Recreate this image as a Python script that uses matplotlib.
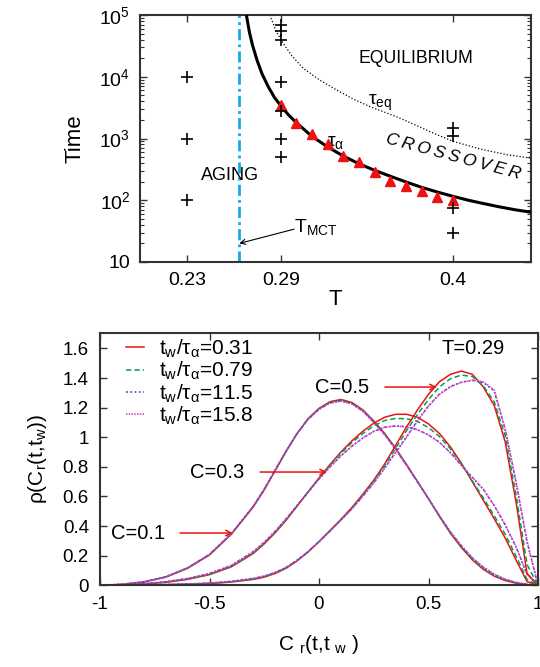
import matplotlib
matplotlib.use("Agg")
import matplotlib.pyplot as plt
from matplotlib.ticker import FixedLocator, NullFormatter, LogLocator

plt.rcParams['font.family'] = ['Liberation Sans', 'DejaVu Sans']
plt.rcParams['mathtext.fontset'] = 'custom'
plt.rcParams['mathtext.rm'] = 'Liberation Sans'
plt.rcParams['mathtext.it'] = 'Liberation Sans:italic'
plt.rcParams['mathtext.bf'] = 'Liberation Sans:bold'

# ---------------- top panel data ----------------
plus_T = [0.23, 0.23, 0.23, 0.29, 0.29, 0.29, 0.29, 0.29, 0.29, 0.29, 0.4, 0.4, 0.4, 0.4]
plus_time = [1e2, 1e3, 1e4, 7e4, 5.6e4, 4e4, 8.2e3, 2.8e3, 1.0e3, 5.0e2, 1.5e3, 1.1e3, 75, 30]

tri_T = [0.29, 0.30, 0.31, 0.32, 0.33, 0.34, 0.35, 0.36, 0.37, 0.38, 0.39, 0.40]
tri_tau = [3480, 1800, 1170, 815, 521, 421, 290, 207, 170, 143, 114, 101]

fit_T = [0.268, 0.270, 0.272, 0.275, 0.278, 0.282, 0.286, 0.290, 0.295, 0.300, 0.310,
         0.320, 0.330, 0.340, 0.350, 0.360, 0.370, 0.380, 0.390, 0.400, 0.410, 0.420,
         0.430, 0.440, 0.450]
fit_tau = [1.0e5, 5.2e4, 3.2e4, 1.8e4, 1.12e4, 6.9e3, 4.6e3, 3.4e3, 2.4e3, 1.8e3, 1.08e3,
           7.3e2, 5.2e2, 3.9e2, 3.05e2, 2.45e2, 1.98e2, 1.62e2, 1.36e2, 1.16e2, 1.0e2, 8.8e1,
           7.8e1, 7.0e1, 6.4e1]

eq_T = [0.283, 0.287, 0.2915, 0.297, 0.3043, 0.315, 0.3257, 0.336, 0.3471, 0.355, 0.365,
        0.375, 0.390, 0.4008, 0.418, 0.435, 0.450]
eq_tau = [1.0e5, 5.5e4, 3.5e4, 2.2e4, 1.37e4, 8.8e3, 6.1e3, 4.4e3, 3.27e3, 2.75e3, 2.2e3,
          1.7e3, 1.15e3, 8.9e2, 6.7e2, 5.45e2, 4.8e2]

T_MCT = 0.263

top_xticks = [0.23, 0.29, 0.4]
top_xticklabels = ['0.23', '0.29', '0.4']
top_yticks = [1e1, 1e2, 1e3, 1e4, 1e5]
top_yticklabels = ['10', r'$10^2$', r'$10^3$', r'$10^4$', r'$10^5$']

# ---------------- bottom panel data ----------------
cr = [-1.0, -0.9, -0.8, -0.7, -0.6, -0.5, -0.4, -0.3, -0.25, -0.2, -0.15, -0.1, -0.05, 0.0,
      0.05, 0.1, 0.15, 0.2, 0.25, 0.3, 0.35, 0.4, 0.45, 0.5, 0.55, 0.6, 0.65, 0.7, 0.75,
      0.8, 0.85, 0.9, 0.95, 1.0]

c01_031 = [0.000, 0.006, 0.022, 0.055, 0.115, 0.205, 0.345, 0.530, 0.645, 0.775, 0.905, 1.025,
           1.125, 1.195, 1.240, 1.255, 1.235, 1.185, 1.110, 1.025, 0.925, 0.815, 0.700, 0.585,
           0.465, 0.352, 0.255, 0.172, 0.108, 0.062, 0.032, 0.014, 0.004, 0.000]
c01_079 = [0.000, 0.006, 0.023, 0.056, 0.116, 0.207, 0.347, 0.532, 0.647, 0.777, 0.906, 1.025,
           1.123, 1.192, 1.236, 1.250, 1.231, 1.181, 1.106, 1.021, 0.922, 0.813, 0.699, 0.585,
           0.467, 0.356, 0.260, 0.178, 0.114, 0.067, 0.036, 0.016, 0.005, 0.000]
c01_115 = [0.000, 0.007, 0.024, 0.058, 0.118, 0.209, 0.349, 0.534, 0.649, 0.779, 0.907, 1.025,
           1.121, 1.189, 1.232, 1.245, 1.227, 1.177, 1.102, 1.017, 0.919, 0.811, 0.698, 0.585,
           0.469, 0.360, 0.266, 0.185, 0.121, 0.073, 0.040, 0.019, 0.006, 0.000]
c01_158 = [0.000, 0.007, 0.024, 0.058, 0.118, 0.210, 0.350, 0.535, 0.650, 0.780, 0.908, 1.025,
           1.120, 1.188, 1.230, 1.243, 1.225, 1.175, 1.100, 1.015, 0.918, 0.810, 0.697, 0.585,
           0.470, 0.362, 0.268, 0.188, 0.124, 0.076, 0.042, 0.020, 0.007, 0.000]

c03_031 = [0.000, 0.003, 0.009, 0.020, 0.040, 0.072, 0.125, 0.215, 0.280, 0.355, 0.440, 0.535,
           0.630, 0.725, 0.815, 0.900, 0.975, 1.040, 1.095, 1.135, 1.155, 1.155, 1.135, 1.090,
           1.025, 0.935, 0.825, 0.700, 0.575, 0.450, 0.320, 0.170, 0.025, 0.000]
c03_079 = [0.000, 0.003, 0.010, 0.021, 0.042, 0.074, 0.128, 0.219, 0.284, 0.359, 0.443, 0.536,
           0.630, 0.723, 0.810, 0.892, 0.963, 1.025, 1.077, 1.113, 1.127, 1.125, 1.106, 1.065,
           1.005, 0.922, 0.818, 0.706, 0.590, 0.470, 0.345, 0.195, 0.040, 0.000]
c03_115 = [0.000, 0.004, 0.011, 0.024, 0.046, 0.080, 0.134, 0.227, 0.291, 0.365, 0.449, 0.539,
           0.629, 0.717, 0.799, 0.874, 0.939, 0.994, 1.039, 1.067, 1.077, 1.071, 1.051, 1.016,
           0.966, 0.896, 0.811, 0.729, 0.648, 0.538, 0.408, 0.258, 0.073, 0.000]
c03_158 = [0.000, 0.004, 0.011, 0.024, 0.046, 0.080, 0.135, 0.228, 0.292, 0.366, 0.450, 0.540,
           0.630, 0.718, 0.800, 0.875, 0.940, 0.995, 1.040, 1.068, 1.076, 1.070, 1.050, 1.015,
           0.965, 0.895, 0.810, 0.730, 0.650, 0.540, 0.410, 0.260, 0.075, 0.000]

c05_031 = [0.000, 0.001, 0.002, 0.004, 0.007, 0.012, 0.022, 0.040, 0.055, 0.080, 0.115, 0.165,
           0.225, 0.295, 0.370, 0.445, 0.525, 0.615, 0.710, 0.820, 0.945, 1.070, 1.185, 1.290,
           1.375, 1.425, 1.447, 1.425, 1.340, 1.215, 0.970, 0.560, 0.080, 0.000]
c05_079 = [0.000, 0.001, 0.002, 0.004, 0.008, 0.013, 0.024, 0.042, 0.058, 0.083, 0.118, 0.167,
           0.226, 0.295, 0.368, 0.443, 0.520, 0.608, 0.702, 0.808, 0.925, 1.045, 1.155, 1.255,
           1.340, 1.395, 1.420, 1.410, 1.348, 1.240, 1.010, 0.610, 0.140, 0.000]
c05_115 = [0.000, 0.001, 0.003, 0.005, 0.009, 0.015, 0.027, 0.046, 0.062, 0.087, 0.121, 0.169,
           0.227, 0.295, 0.366, 0.441, 0.517, 0.602, 0.693, 0.794, 0.899, 1.005, 1.113, 1.212,
           1.292, 1.343, 1.372, 1.384, 1.370, 1.312, 1.050, 0.690, 0.290, 0.000]
c05_158 = [0.000, 0.001, 0.003, 0.005, 0.009, 0.015, 0.027, 0.047, 0.063, 0.088, 0.122, 0.170,
           0.228, 0.295, 0.365, 0.440, 0.515, 0.600, 0.690, 0.790, 0.895, 1.000, 1.110, 1.210,
           1.290, 1.340, 1.370, 1.386, 1.375, 1.320, 1.060, 0.700, 0.300, 0.000]

legend_labels = [r'$\mathregular{t_w/\tau_\alpha}$=0.31', r'$\mathregular{t_w/\tau_\alpha}$=0.79',
                 r'$\mathregular{t_w/\tau_\alpha}$=11.5', r'$\mathregular{t_w/\tau_\alpha}$=15.8']
series_colors = ['#ee1111', '#00a050', '#4444bb', '#dd33cc']
series_dashes = [None, (3.5, 2.0), (1.2, 1.6), (1.0, 0.8)]

bottom_xticks = [-1, -0.5, 0, 0.5, 1]
bottom_xticklabels = ['-1', '-0.5', '0', '0.5', '1']
bottom_yticks = [0, 0.2, 0.4, 0.6, 0.8, 1.0, 1.2, 1.4, 1.6]
bottom_yticklabels = ['0', '0.2', '0.4', '0.6', '0.8', '1', '1.2', '1.4', '1.6']

# ---------------- figure ----------------
fig = plt.figure(figsize=(5.40, 6.67), dpi=100)
spine_col = '#333333'

ax1 = fig.add_axes([140/540, 1-262/667, 391/540, 247/667])
ax1.set_yscale('log')
ax1.set_xlim(0.2, 0.45)
ax1.set_ylim(10, 1e5)

ax1.axvline(T_MCT, color='#11aaee', lw=2.0, ls=(0, (4, 1.5, 1, 1.5)), zorder=1)
ax1.plot(eq_T, eq_tau, color='black', lw=0.9, ls=(0, (1, 1.6)), zorder=2)
ax1.plot(fit_T, fit_tau, color='black', lw=2.2, zorder=3)
ax1.plot(tri_T, tri_tau, ls='none', marker='^', color='#ee1111', ms=6.5, mec='#ee1111', zorder=4)
ax1.plot(plus_T, plus_time, ls='none', marker='+', color='black', ms=9, mew=1.2, zorder=5)

ax1.text(0.3763, 1.99e4, 'EQUILIBRIUM', fontsize=12.7, ha='center', va='center')
ax1.text(0.3455, 3.8e3, r'$\mathregular{\tau_{eq}}$', fontsize=14, ha='left', va='center')
ax1.text(0.3195, 8.5e2, r'$\mathregular{\tau_{\alpha}}$', fontsize=14, ha='left', va='center')
ax1.text(0.4005, 5.0e2, '\u2009'.join('CROSSOVER'), fontsize=12.5, style='italic',
         ha='center', va='center', rotation=-15)
ax1.text(0.2575, 2.5e2, 'AGING', fontsize=13, ha='center', va='center')
ax1.text(0.2985, 37, r'$\mathregular{T_{MCT}}$', fontsize=14, ha='left', va='center')
ax1.annotate('', xy=(T_MCT + 0.0005, 20), xytext=(0.2985, 34),
             arrowprops=dict(arrowstyle='->', lw=0.8, color='black',
                             shrinkA=0, shrinkB=0, mutation_scale=9))

ax1.set_xticks(top_xticks)
ax1.set_xticklabels(top_xticklabels)
ax1.set_yticks(top_yticks)
ax1.set_yticklabels(top_yticklabels)
ax1.yaxis.set_minor_locator(LogLocator(base=10, subs=range(2, 10)))
ax1.yaxis.set_minor_formatter(NullFormatter())
ax1.tick_params(axis='both', which='major', direction='in', length=5, width=1,
                labelsize=14, top=True, right=True, color=spine_col, pad=7)
ax1.tick_params(axis='y', which='minor', direction='in', length=3, width=0.8,
                right=True, color=spine_col)
ax1.set_ylabel('Time', fontsize=16, labelpad=10)
ax1.set_xlabel('T', fontsize=16, labelpad=0)
for s in ax1.spines.values():
    s.set_linewidth(1.5)
    s.set_color(spine_col)

# bottom panel
ax2 = fig.add_axes([100/540, 1-585.3/667, 438/540, 252.6/667])
ax2.set_xlim(-1, 1)
ax2.set_ylim(0, 1.706)

groups = [
    [c01_031, c01_079, c01_115, c01_158],
    [c03_031, c03_079, c03_115, c03_158],
    [c05_031, c05_079, c05_115, c05_158],
]
handles = []
for gi, grp in enumerate(groups):
    for si, ys in enumerate(grp):
        line, = ax2.plot(cr, ys, color=series_colors[si], lw=1.1)
        if series_dashes[si] is not None:
            line.set_dashes(series_dashes[si])
        if gi == 0:
            handles.append(line)

leg = ax2.legend(handles, legend_labels, loc='upper left', bbox_to_anchor=(0.03, 1.03),
                 frameon=False, fontsize=15, handlelength=0.9, handletextpad=0.7,
                 labelspacing=0.0, borderaxespad=0.2)

ax2.text(0.703, 1.60, 'T=0.29', fontsize=14.5, ha='center', va='center')
ax2.text(0.105, 1.339, 'C=0.5', fontsize=14.5, ha='center', va='center')
ax2.text(-0.466, 0.765, 'C=0.3', fontsize=14.5, ha='center', va='center')
ax2.text(-0.826, 0.353, 'C=0.1', fontsize=14.5, ha='center', va='center')
arrow_kw = dict(arrowstyle='->', lw=1.1, color='#ee1111', shrinkA=0, shrinkB=0,
                mutation_scale=10)
ax2.annotate('', xy=(0.539, 1.339), xytext=(0.301, 1.339), arrowprops=arrow_kw)
ax2.annotate('', xy=(0.037, 0.765), xytext=(-0.269, 0.765), arrowprops=arrow_kw)
ax2.annotate('', xy=(-0.393, 0.353), xytext=(-0.635, 0.353), arrowprops=arrow_kw)

ax2.xaxis.set_major_locator(FixedLocator(bottom_xticks))
ax2.set_xticklabels(bottom_xticklabels)
ax2.yaxis.set_major_locator(FixedLocator(bottom_yticks))
ax2.set_yticklabels(bottom_yticklabels)
ax2.tick_params(axis='both', which='major', direction='in', length=5, width=1,
                labelsize=13.5, top=True, right=True, color=spine_col, pad=8)
ax2.set_ylabel(r'ρ(C$_\mathregular{r}$(t,t$_\mathregular{w}$))', fontsize=15, labelpad=10)
ax2.set_xlabel(r'C $_\mathregular{r}$(t,t $_\mathregular{w}$ )', fontsize=15, labelpad=14)
for s in ax2.spines.values():
    s.set_linewidth(1.5)
    s.set_color(spine_col)

fig.savefig('out.png', dpi=100)
